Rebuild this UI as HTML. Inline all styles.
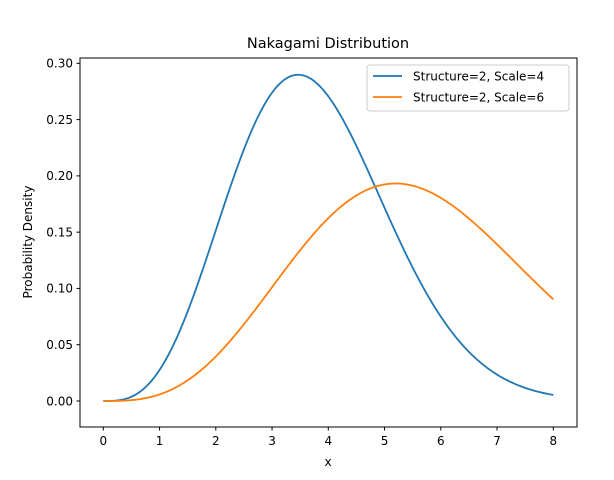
<!DOCTYPE html>
<html><head><meta charset="utf-8"><style>
html,body{margin:0;padding:0;background:#fff;}
svg{display:block;font-family:"DejaVu Sans","Liberation Sans",sans-serif;}
</style></head><body>
<svg id="s" width="614" height="480" viewBox="0 0 614 480" xmlns="http://www.w3.org/2000/svg">
<rect width="614" height="480" fill="#fff"/>
<text x="328" y="48" font-size="14.5" text-anchor="middle" fill="#000">Nakagami Distribution</text>
<g id="curves"></g>
<rect x="80" y="58" width="497" height="369" fill="none" stroke="#000" stroke-width="1"/>
<g id="ticks" font-size="12" fill="#000"></g>
<text x="328" y="466" font-size="12" text-anchor="middle">x</text>
<text transform="translate(32,242) rotate(-90)" font-size="12" text-anchor="middle">Probability Density</text>
<rect x="367" y="65" width="202" height="46" rx="3" fill="#fff" fill-opacity="0.8" stroke="#ccc" stroke-width="1"/>
<line x1="373" y1="76" x2="402" y2="76" stroke="#1f77b4" stroke-width="1.8"/>
<text x="413" y="80.5" font-size="12">Structure=2, Scale=4</text>
<line x1="373" y1="97" x2="402" y2="97" stroke="#ff7f0e" stroke-width="1.8"/>
<text x="413" y="101.5" font-size="12">Structure=2, Scale=6</text>
</svg>
<script>
(function(){
var NS="http://www.w3.org/2000/svg";
function X(x){return 103.3+x*56.25;}
function Y(y){return 401-y*1125.6;}
function f(x,s){var y=x/s;return 8*y*y*y*Math.exp(-2*y*y)/s;}
var c=document.getElementById("curves");
[[4,"#1f77b4"],[6,"#ff7f0e"]].forEach(function(p){
 var d="";for(var i=0;i<=400;i++){var x=8*i/400;d+=(i?"L":"M")+X(x).toFixed(2)+" "+Y(f(x,p[0])).toFixed(2);}
 var e=document.createElementNS(NS,"path");e.setAttribute("d",d);e.setAttribute("fill","none");
 e.setAttribute("stroke",p[1]);e.setAttribute("stroke-width","1.8");c.appendChild(e);
});
var t=document.getElementById("ticks");
function add(tag,attrs,txt){var e=document.createElementNS(NS,tag);for(var k in attrs)e.setAttribute(k,attrs[k]);if(txt)e.textContent=txt;t.appendChild(e);}
for(var i=0;i<=8;i++){var x=X(i);add("line",{x1:x,x2:x,y1:427,y2:430.5,stroke:"#000"});add("text",{x:x,y:445,"text-anchor":"middle"},String(i));}
for(var j=0;j<=6;j++){var v=j*0.05,y=Y(v);add("line",{x1:76.5,x2:80,y1:y,y2:y,stroke:"#000"});add("text",{x:73,y:y+4.3,"text-anchor":"end"},v.toFixed(2));}
})();
</script>
</body></html>
